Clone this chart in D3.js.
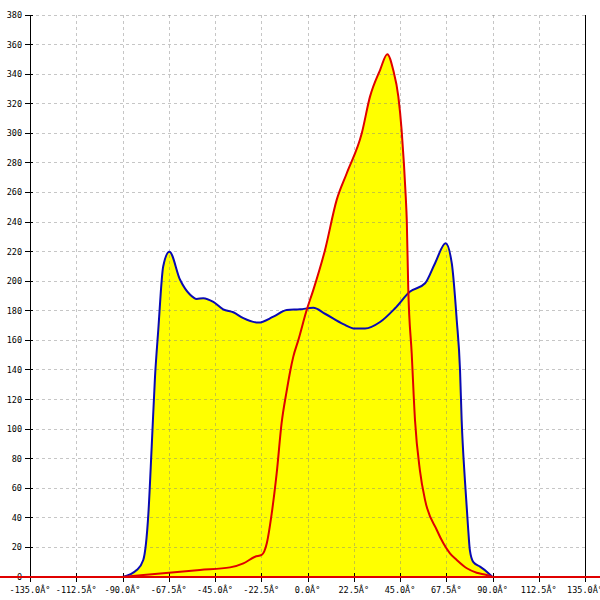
<!DOCTYPE html>
<html>
<head>
<meta charset="utf-8">
<script src="https://cdn.jsdelivr.net/npm/d3@7"></script>
<style>
  body { margin: 0; background: #fff; }
  svg text { font-family: "DejaVu Sans Mono", monospace; font-size: 8.5px; fill: #000; }
</style>
</head>
<body>
<svg id="chart" width="600" height="600"></svg>
<script>
// x ticks (degrees) and y ticks
var xTicks = [-135, -112.5, -90, -67.5, -45, -22.5, 0, 22.5, 45, 67.5, 90, 112.5, 135];
var yTicks = d3.range(0, 381, 20);

// blue series
var blueAngles = [-90, -83.1, -79.9, -77.4, -75.8, -74.2, -72.6, -70.2, -67.2, -62.0, -57.2, -53.9, -50.7,
    -45.8, -41.0, -36.1, -31.2, -23.9, -16.6, -10.1, -3.6, 2.8, 8.5, 17.4, 23.1, 28.0, 35.3, 42.6, 49.9,
    57.2, 62.0, 67.2, 70.2, 72.6, 74.2, 75.0, 76.6, 78.2, 79.0, 80.7, 83.9, 87.2, 90];
var blueValues = [0, 4.7, 11.5, 43, 88, 135, 167, 210, 220, 201, 191, 188, 188.5,
    186, 181, 179, 175, 172, 176, 180.5, 181, 182, 178, 171, 168, 168, 172.4, 181.7, 193,
    198.6, 212, 225.6, 212, 173.8, 140, 106, 65, 31.8, 18, 10, 7, 3.6, 0];

// red series
var redAngles = [-90, -52.3, -37.7, -31.2, -25.5, -22.3, -19.8, -17.4, -15.0, -12.6, -10.1, -8.3, -6.9,
    -4.5, -0.4, 2.8, 8.5, 14.2, 19.1, 26.4, 30.4, 35.3, 38.8, 41.7, 44.2, 45.8, 46.9, 47.8, 48.3,
    49.0, 50.7, 52.3, 54.7, 57.2, 62.9, 66.1, 69.3, 72.6, 77.5, 82.3, 87.2, 90];
var redValues = [0, 4.7, 6.5, 9.2, 13.7, 14.9, 22.8, 43, 70, 104, 126, 140, 149,
    160, 180.5, 194, 221, 255, 273, 300, 324.8, 342.8, 353.5, 342.8, 324.8, 302, 279.7, 257, 241,
    196, 151, 106, 72, 52, 31.8, 22.8, 16, 11.5, 5.9, 2.9, 1.4, 0];

var plotLeft = 30, plotRight = 585, plotTop = 15, plotBottom = 577;

var x = d3.scaleLinear().domain([-135, 135]).range([plotLeft, plotRight]);
var y = d3.scaleLinear().domain([0, 380]).range([plotBottom, plotTop]);

var svg = d3.select("#chart");

var blue = blueAngles.map(function(a, i){ return [a, blueValues[i]]; });
var red = redAngles.map(function(a, i){ return [a, redValues[i]]; });

var area = d3.area()
    .x(function(d){ return x(d[0]); })
    .y0(y(0))
    .y1(function(d){ return y(d[1]); })
    .curve(d3.curveMonotoneX);
var line = d3.line()
    .x(function(d){ return x(d[0]); })
    .y(function(d){ return y(d[1]); })
    .curve(d3.curveMonotoneX);

// fills
[blue, red].forEach(function(s){
    svg.append("path").datum(s).attr("d", area).attr("fill", "#ffff00");
});

// grid
var grid = svg.append("g")
    .attr("stroke", "#808080")
    .attr("stroke-opacity", 0.45)
    .attr("stroke-dasharray", "3,3")
    .attr("shape-rendering", "crispEdges");
grid.selectAll("line.h")
    .data(yTicks.filter(function(t){ return t > 0; }))
    .enter().append("line")
    .attr("x1", plotLeft).attr("x2", plotRight)
    .attr("y1", function(d){ return y(d); })
    .attr("y2", function(d){ return y(d); });
grid.selectAll("line.v")
    .data(xTicks.slice(1, -1))
    .enter().append("line")
    .attr("y1", plotTop).attr("y2", plotBottom)
    .attr("x1", function(d){ return Math.round(x(d)); })
    .attr("x2", function(d){ return Math.round(x(d)); });

// axes
var ax = svg.append("g").attr("stroke", "#000").attr("shape-rendering", "crispEdges");
ax.append("line").attr("x1", plotLeft).attr("x2", plotLeft).attr("y1", plotTop).attr("y2", plotBottom);
ax.append("line").attr("x1", plotRight).attr("x2", plotRight).attr("y1", plotTop).attr("y2", plotBottom);
ax.selectAll("line.yt")
    .data(yTicks)
    .enter().append("line")
    .attr("x1", plotLeft - 5).attr("x2", plotLeft + 3)
    .attr("y1", function(d){ return y(d); })
    .attr("y2", function(d){ return y(d); });
ax.selectAll("line.xt")
    .data(xTicks)
    .enter().append("line")
    .attr("y1", plotBottom - 4).attr("y2", plotBottom + 5)
    .attr("x1", function(d){ return Math.round(x(d)); })
    .attr("x2", function(d){ return Math.round(x(d)); });

svg.selectAll("text.yl")
    .data(yTicks)
    .enter().append("text")
    .attr("x", plotLeft - 8)
    .attr("y", function(d){ return y(d) + 3; })
    .attr("text-anchor", "end")
    .text(function(d){ return d; });

svg.selectAll("text.xl")
    .data(xTicks)
    .enter().append("text")
    .attr("x", function(d){ return x(d); })
    .attr("y", 593)
    .attr("text-anchor", "middle")
    .text(function(d){ return d.toFixed(1) + "Â°"; });

// lines
svg.append("path").datum(blue).attr("d", line)
    .attr("fill", "none").attr("stroke", "#0a0ab4").attr("stroke-width", 2);
svg.append("path").datum(red).attr("d", line)
    .attr("fill", "none").attr("stroke", "#e00000").attr("stroke-width", 2);

// red zero line across the whole width
svg.append("line")
    .attr("x1", 0).attr("x2", 600)
    .attr("y1", y(0)).attr("y2", y(0))
    .attr("stroke", "#e00000").attr("stroke-width", 2);
</script>
</body>
</html>
